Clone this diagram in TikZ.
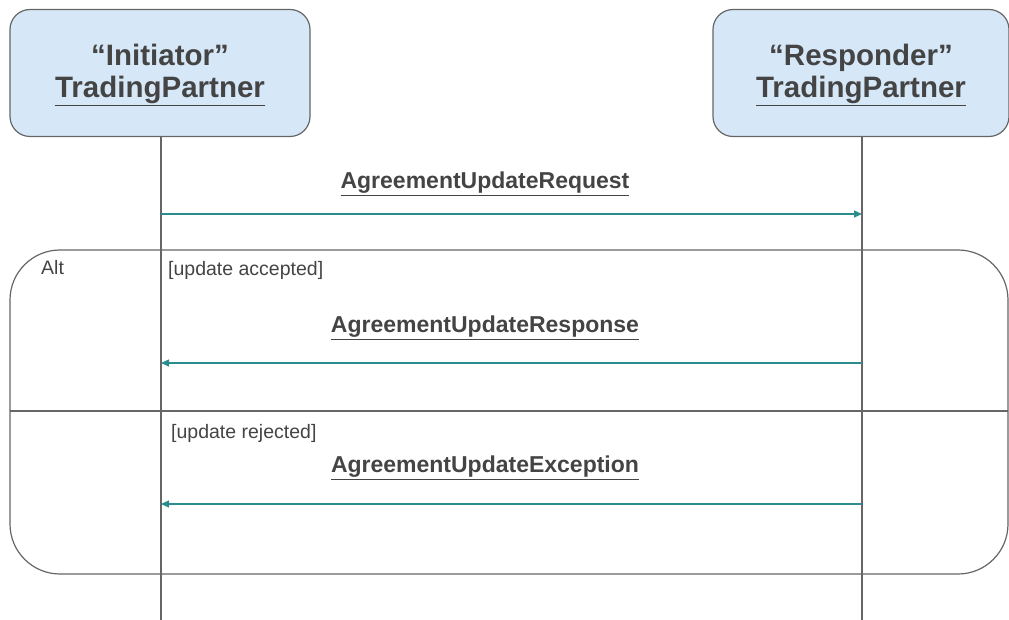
\documentclass[tikz,border=0pt]{standalone}
\usepackage{fontspec}
\setmainfont{Liberation Sans}
\usetikzlibrary{arrows.meta}
\definecolor{boxfill}{HTML}{D6E8F7}
\definecolor{edge}{HTML}{666666}
\definecolor{txt}{HTML}{444444}
\definecolor{msg}{HTML}{2A8C8C}
\tikzset{
  x=1pt,y=-1pt,
  partbox/.style={draw=edge,line width=1.2pt,fill=boxfill,rounded corners=20pt,minimum width=300pt,minimum height=127pt,align=center,text=txt,font=\bfseries\fontsize{29.5}{32}\selectfont},
  life/.style={draw=edge,line width=1.2pt},
  frame/.style={draw=edge,line width=1.2pt,rounded corners=50pt},
  msgarrow/.style={draw=msg,line width=1.2pt,-{Triangle[length=8pt,width=7pt]}},
  msglabel/.style={text=txt,font=\bfseries\fontsize{23}{26}\selectfont},
  guard/.style={text=txt,font=\fontsize{19.5}{22}\selectfont,anchor=west,inner sep=0pt}
}
\begin{document}
\begin{tikzpicture}
\useasboundingbox (0,0) rectangle (1009,620);
\node[partbox] (ini) at (160,73) {\rule{0pt}{26pt}“Initiator”\\\underline{TradingPartner}};
\node[partbox,minimum width=296pt] (res) at (861,73) {\rule{0pt}{26pt}“Responder”\\\underline{TradingPartner}};
\coordinate (iniend) at (161,620);
\coordinate (resend) at (862,620);
% alt frame
\draw[frame] (10,250) rectangle (1008,574);
\coordinate (divL) at (10,411);
\coordinate (divR) at (1008,411);
\draw[life] (divL) -- (divR);
% lifelines
\draw[life] (ini.south -| iniend) -- (iniend);
\draw[life] (res.south -| resend) -- (resend);
% messages
\coordinate (m1a) at (161,214); \coordinate (m1b) at (862,214);
\coordinate (m2a) at (862,363); \coordinate (m2b) at (161,363);
\coordinate (m3a) at (862,504); \coordinate (m3b) at (161,504);
\draw[msgarrow] (m1a) -- (m1b);
\draw[msgarrow] (m2a) -- (m2b);
\draw[msgarrow] (m3a) -- (m3b);
\node[msglabel] (l1) at (485,184) {\underline{AgreementUpdateRequest}};
\node[msglabel] (l2) at (485,328) {\underline{AgreementUpdateResponse}};
\node[msglabel] (l3) at (485,468) {\underline{AgreementUpdateException}};
\node[guard] (alt) at (41,268) {Alt};
\node[guard] (g1) at (168,270) {[update accepted]};
\node[guard] (g2) at (171,433) {[update rejected]};
\end{tikzpicture}
\end{document}
